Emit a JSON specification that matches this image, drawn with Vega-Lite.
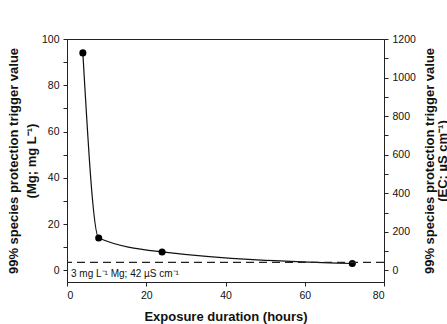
{
  "$schema": "https://vega.github.io/schema/vega-lite/v6.json",
  "autosize": {"type": "none"},
  "padding": {"left": 67, "top": 39, "right": 63, "bottom": 42},
  "width": 317,
  "height": 243,
  "background": "white",
  "config": {
    "view": {"stroke": "#222", "strokeWidth": 1},
    "axis": {
      "domainColor": "#222",
      "tickColor": "#222",
      "grid": false,
      "labelFont": "Liberation Sans",
      "labelFontSize": 10.5,
      "labelColor": "#111",
      "titleFont": "Liberation Sans",
      "titleFontSize": 13,
      "titleFontWeight": "bold",
      "titleColor": "#111",
      "tickSize": 4,
      "labelPadding": 4
    }
  },
  "datasets": {
    "trig": [
      {"hours": 4, "mg": 94},
      {"hours": 8, "mg": 14},
      {"hours": 24, "mg": 8},
      {"hours": 72, "mg": 3}
    ],
    "ref": [
      {"mg": 3, "ec": 42, "label": "3 mg L⁻¹ Mg; 42 µS cm⁻¹"}
    ]
  },
  "layer": [
    {
      "data": {"name": "trig"},
      "encoding": {
        "x": {
          "field": "hours", "type": "quantitative",
          "scale": {"domain": [0, 80], "nice": false},
          "axis": {
            "title": "Exposure duration (hours)",
            "values": [0, 10, 20, 30, 40, 50, 60, 70, 80],
            "labelExpr": "datum.value % 20 === 0 ? datum.label : ''",
            "titlePadding": 10
          }
        },
        "y": {
          "field": "mg", "type": "quantitative",
          "scale": {"domain": [-5, 100], "nice": false, "zero": false},
          "axis": {
            "title": ["99% species protection trigger value", "(Mg; mg L⁻¹)"],
            "values": [0, 10, 20, 30, 40, 50, 60, 70, 80, 90, 100],
            "labelExpr": "datum.value % 20 === 0 ? datum.label : ''",
            "titlePadding": 3,
            "titleLineHeight": 18
          }
        }
      },
      "layer": [
        {"mark": {"type": "line", "interpolate": "monotone", "color": "#111", "strokeWidth": 1.2}},
        {"mark": {"type": "point", "filled": true, "color": "#000", "opacity": 1, "size": 50}}
      ]
    },
    {
      "data": {"name": "ref"},
      "encoding": {
        "y": {
          "field": "ec", "type": "quantitative",
          "scale": {"domain": [-60, 1200], "nice": false, "zero": false},
          "axis": {
            "orient": "right",
            "title": ["99% species protection trigger value", "(EC; µS cm⁻¹)"],
            "titleAngle": 270,
            "format": "d",
            "values": [0, 100, 200, 300, 400, 500, 600, 700, 800, 900, 1000, 1100, 1200],
            "labelExpr": "datum.value % 200 === 0 ? datum.label : ''",
            "titlePadding": 8,
            "titleLineHeight": 13
          }
        }
      },
      "layer": [
        {"mark": {"type": "rule", "strokeDash": [8, 5], "color": "#222", "strokeWidth": 1.2}},
        {
          "mark": {"type": "text", "align": "left", "baseline": "middle", "font": "Liberation Sans", "fontSize": 10, "color": "#111", "dx": 4},
          "encoding": {
            "x": {"datum": 0, "type": "quantitative"},
            "y": {"datum": -18, "type": "quantitative"},
            "text": {"field": "label"}
          }
        }
      ]
    }
  ],
  "resolve": {"scale": {"y": "independent"}}
}
